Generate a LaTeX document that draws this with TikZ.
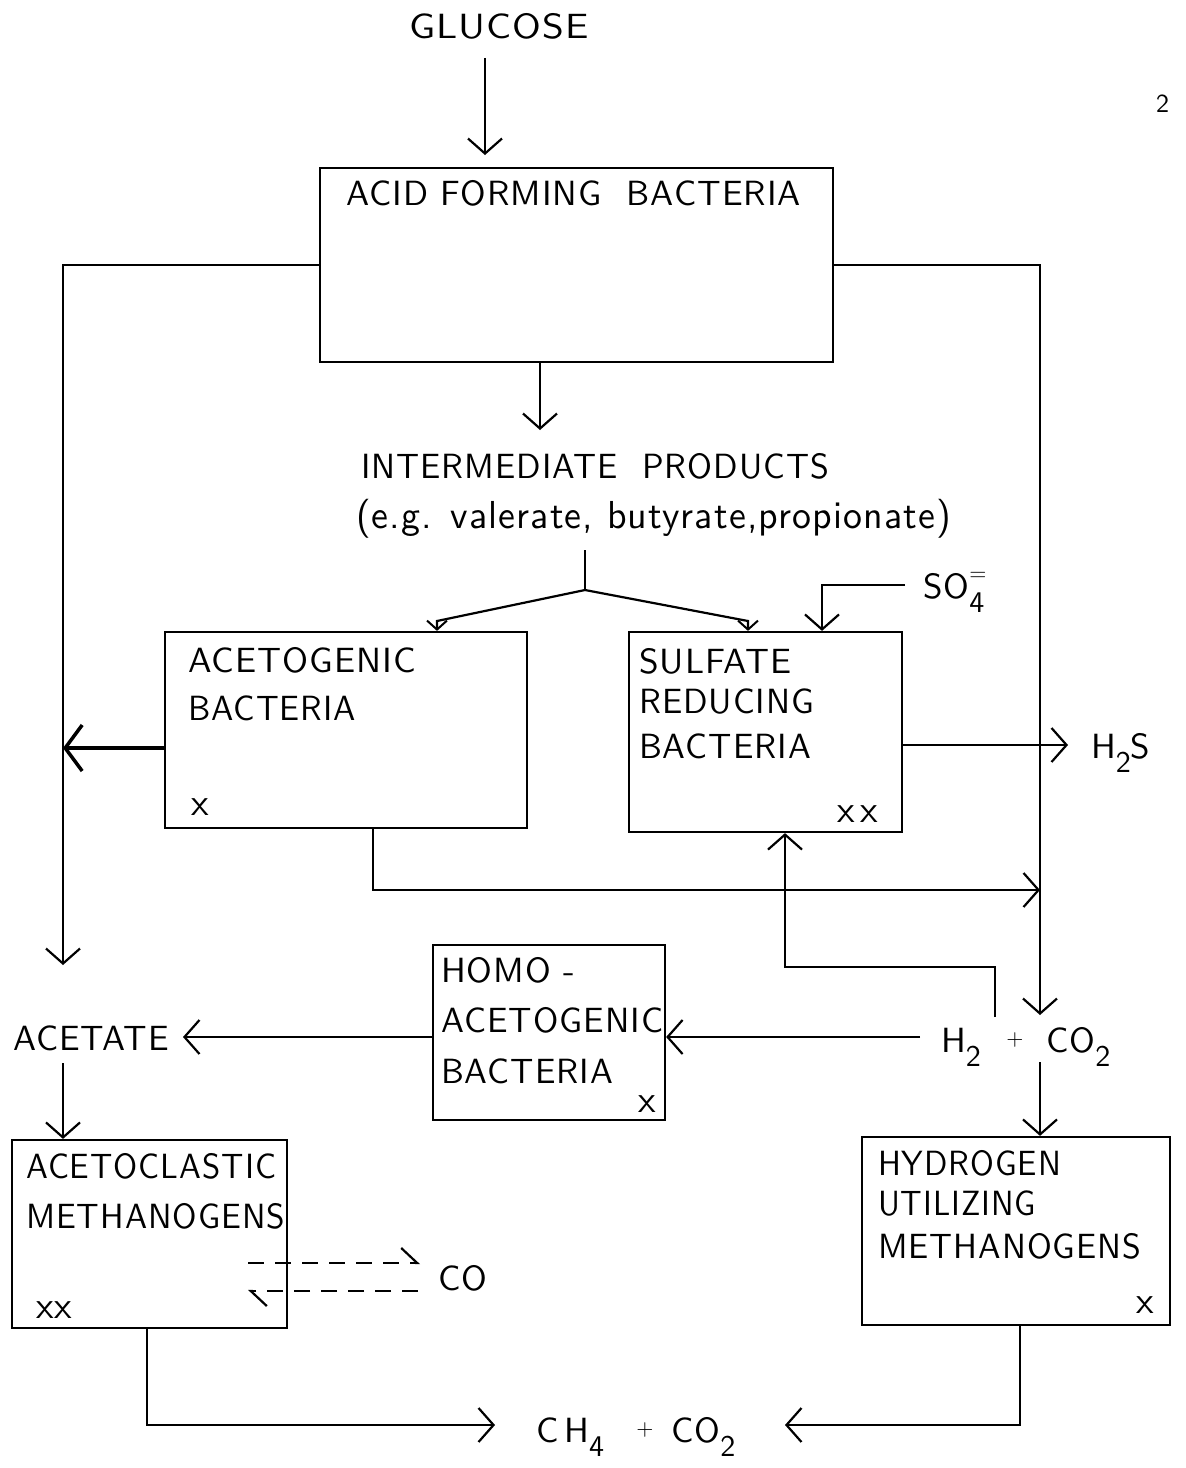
\documentclass[tikz,border=0pt]{standalone}
\usepackage{fontspec}
\setsansfont{lmsans10-regular.otf}[LetterSpace=3]
\usetikzlibrary{arrows.meta,calc}
\renewcommand\familydefault{\sfdefault}
\newcommand\lowsub[1]{\raisebox{-0.42em}{\fontsize{30}{30}\selectfont #1}}
\newcommand\fitw[2]{\resizebox{#1pt}{\height}{#2}}
\begin{document}
\begin{tikzpicture}[x=1pt,y=-1pt,
  line width=2.2pt,
  box/.style={draw, rectangle, inner sep=0pt},
  lbl/.style={anchor=base west, inner sep=0pt, font=\fontsize{35}{40}\selectfont},
  mk/.style={anchor=base west, inner sep=0pt, font=\fontsize{38}{40}\selectfont},
  plus/.style={inner sep=0pt, font=\fontsize{22}{22}\selectfont},
  arr/.style={-{Straight Barb[length=15pt,width=34pt,line width=2.2pt]}},
  sarr/.style={-{Straight Barb[length=9pt,width=20pt,line width=2pt]}},
  tarr/.style={line width=3.5pt,-{Straight Barb[length=17pt,width=46pt,line width=3.5pt]}},
  harr/.style={dash pattern=on 16pt off 11pt,-{Straight Barb[harpoon,length=16pt,width=30pt]}},
]
\useasboundingbox (0,0) rectangle (1186,1468);

% texts and boxes
\node[lbl] (glucose) at (408,38) {\fitw{180}{GLUCOSE}};
\node[box, minimum width=513pt, minimum height=194pt] (acid) at (576.5,265) {};
\node[lbl] (acidt) at (345,205) {\fitw{455}{ACID FORMING\ \ BACTERIA}};
\node[lbl] (ip) at (360,478) {\fitw{468}{INTERMEDIATE\ \ PRODUCTS}};
\node[lbl, font=\fontsize{39}{44}\selectfont] (eg) at (355,528) {\fitw{595}{(e.g. valerate, butyrate,propionate)}};

\node[box, minimum width=362pt, minimum height=196pt] (acg) at (346,730) {};
\node[lbl] (acg1) at (187,672) {\fitw{228}{ACETOGENIC}};
\node[lbl] (acg2) at (187,720) {\fitw{168}{BACTERIA}};
\node[mk] (acgx) at (190,815) {x};

\node[box, minimum width=273pt, minimum height=200pt] (sul) at (765.5,732) {};
\node[lbl] (sul1) at (638,673) {\fitw{152}{SULFATE}};
\node[lbl] (sul2) at (638,713) {\fitw{175}{REDUCING}};
\node[lbl] (sul3) at (638,758) {\fitw{172}{BACTERIA}};
\node[mk] (sulx) at (836,822) {x\,x};

\node[lbl] (so4) at (922,598) {SO\rlap{\raisebox{0.5em}{\fontsize{22}{22}\selectfont =}}\lowsub{4}};
\node[lbl] (h2s) at (1090,758) {H\lowsub{2}S};

\node[box, minimum width=232pt, minimum height=175pt] (homo) at (549,1032.5) {};
\node[lbl] (homo1) at (440,982) {HOMO -};
\node[lbl] (homo2) at (440,1032) {\fitw{222}{ACETOGENIC}};
\node[lbl] (homo3) at (440,1083) {\fitw{172}{BACTERIA}};
\node[mk] (homox) at (637,1112) {x};

\node[lbl] (acetate) at (12,1050) {\fitw{156}{ACETATE}};
\node[lbl] (h2) at (940,1052) {H\lowsub{2}};
\node[plus] (plus1) at (1015,1040) {+};
\node[lbl] (co2) at (1045,1052) {CO\lowsub{2}};

\node[box, minimum width=275pt, minimum height=188pt] (acl) at (149.5,1234) {};
\node[lbl] (acl1) at (25,1178) {\fitw{250}{ACETOCLASTIC}};
\node[lbl] (acl2) at (25,1228) {\fitw{259}{METHANOGENS}};
\node[mk] (aclx) at (35,1318) {xx};
\node[lbl] (co) at (437,1290) {CO};

\node[box, minimum width=308pt, minimum height=188pt] (hum) at (1016,1231) {};
\node[lbl] (hum1) at (877,1175) {\fitw{183}{HYDROGEN}};
\node[lbl] (hum2) at (877,1215) {\fitw{158}{UTILIZING}};
\node[lbl] (hum3) at (877,1258) {\fitw{263}{METHANOGENS}};
\node[mk] (humx) at (1135,1313) {x};

\node[lbl] (ch4) at (535,1442) {C\,H\lowsub{4}};
\node[plus] (plus2) at (645,1430) {+};
\node[lbl] (co2b) at (670,1442) {CO\lowsub{2}};

\node[anchor=base west, inner sep=0pt, font=\fontsize{26}{26}\selectfont] (pg) at (1155,112) {2};

% coordinates
\coordinate (fk) at (585,590);
\coordinate (leftTip) at (63,965);
\coordinate (rightTip) at (1040,1015);
\coordinate (ipTip) at (540,430);

% connectors
\draw[arr] (glucose.south -| 485,0) ++(0,18) -- (485,155);
\draw[arr] (acid.west) -| (leftTip);
\draw[arr] (acid.east) -| (rightTip);
\draw[arr] (acid.south -| ipTip) -- (ipTip);
\draw (585,550) -- (fk);
\draw[sarr] (fk) -- (437,621) -- (acg.north -| 437,0);
\draw[sarr] (fk) -- (748,621) -- (sul.north -| 748,0);
\draw[arr] (so4.west |- 0,585) ++(-17,0) -| (sul.north -| 822,0);
\draw[tarr] (acg.west |- 0,748) -- (63,748);
\draw[arr] (acg.south -| 373,0) |- (1040,890);
\draw[arr] (sul.east |- 0,745) -- (1068,745);
\draw[arr] (995,1017) |- (785,967) -- (sul.south -| 785,0);
\draw[arr] (920,1037) -- (homo.east |- 0,1037);
\draw[arr] (homo.west |- 0,1037) -- (183,1037);
\draw[arr] (63,1063) -- (acl.north -| 63,0);
\draw[arr] (1040,1062) -- (hum.north -| 1040,0);
\draw[harr] (248,1263) -- (420,1263);
\draw[harr] (418,1291) -- (248,1291);
\draw[arr] (acl.south -| 147,0) |- (495,1425);
\draw[arr] (hum.south -| 1020,0) |- (785,1425);
\end{tikzpicture}
\end{document}
